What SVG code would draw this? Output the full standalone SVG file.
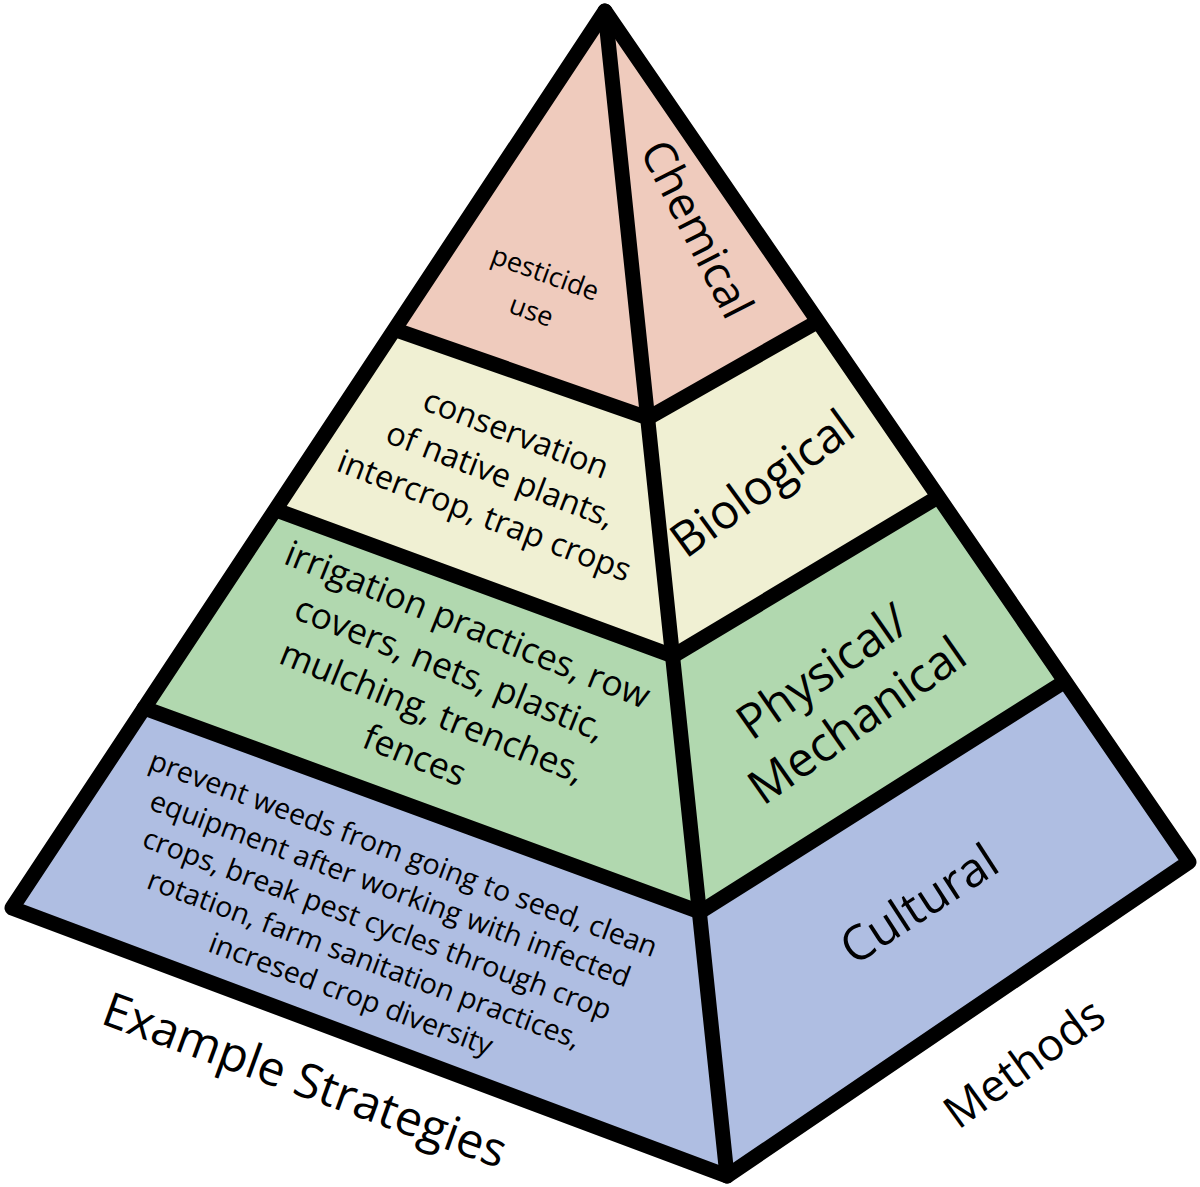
<svg xmlns="http://www.w3.org/2000/svg" width="1200" height="1187" viewBox="0 0 1200 1187">
<style>
.edge{fill:none;stroke:#000;stroke-width:15;stroke-linejoin:round;stroke-linecap:round}
text{font-family:"Open Sans","Liberation Sans",sans-serif;fill:#000;text-anchor:middle}
.chem{fill:#EFCBBD}.bio{fill:#F0F0D3}.phys{fill:#B1D8AF}.cult{fill:#AFBEE2}
.lab{font-size:48px}
</style>
<rect width="1200" height="1187" fill="#fff"/>
<g id="chemical">
<polygon class="chem" points="605,11 396,330 648,418 817,322"/>
<g transform="translate(542,282) rotate(20)"><text font-size="27" x="0" y="0">pesticide</text><text font-size="27" x="0" y="40">use</text></g>
<text font-size="45" transform="translate(697,229) rotate(63)" dy="0.35em">Chemical</text>
</g>
<g id="biological">
<polygon class="bio" points="396,330 276,510 673,656 938,497 817,322 648,418"/>
<g transform="translate(512,444) rotate(21)" font-size="32.5"><text x="0" y="0">conservation</text><text x="0" y="44">of native plants,</text><text x="0" y="88">intercrop, trap crops</text></g>
<text class="lab" transform="translate(772,497) rotate(-36)">Biological</text>
</g>
<g id="physical">
<polygon class="phys" points="276,510 144,708 700,912 1064,682 938,497 673,656"/>
<g transform="translate(463,636) rotate(22)" font-size="35.5"><text x="0" y="0">irrigation practices, row</text><text x="0" y="47">covers, nets, plastic,</text><text x="0" y="94">mulching, trenches,</text><text x="0" y="141">fences</text></g>
<g transform="translate(832,685) rotate(-35)"><text class="lab" x="0" y="0">Physical/</text><text class="lab" x="0" y="60">Mechanical</text></g>
</g>
<g id="cultural">
<polygon class="cult" points="144,708 12,908 727,1176 1189,862 1064,682 700,912"/>
<g transform="translate(400,863) rotate(20.5)" font-size="28.6"><text x="0" y="0">prevent weeds from going to seed, clean</text><text x="0" y="37.5">equipment after working with infected</text><text x="0" y="75">crops, break pest cycles through crop</text><text x="0" y="112.5">rotation, farm sanitation practices,</text><text x="0" y="150">incresed crop diversity</text></g>
<text class="lab" transform="translate(928,918) rotate(-33)">Cultural</text>
</g>
<g id="connectors">
<line class="edge" x1="396" y1="330" x2="648" y2="418"/>
<line class="edge" x1="648" y1="418" x2="817" y2="322"/>
<line class="edge" x1="276" y1="510" x2="673" y2="656"/>
<line class="edge" x1="673" y1="656" x2="938" y2="497"/>
<line class="edge" x1="144" y1="708" x2="700" y2="912"/>
<line class="edge" x1="700" y1="912" x2="1064" y2="682"/>
<line class="edge" x1="605" y1="11" x2="727" y2="1176"/>
<polygon class="edge" points="605,11 12,908 727,1176 1189,862"/>
</g>
<text class="lab" transform="translate(305,1080) rotate(20)" dy="0.35em">Example Strategies</text>
<text font-size="45" transform="translate(1024,1063) rotate(-36)" dy="0.35em">Methods</text>
</svg>
